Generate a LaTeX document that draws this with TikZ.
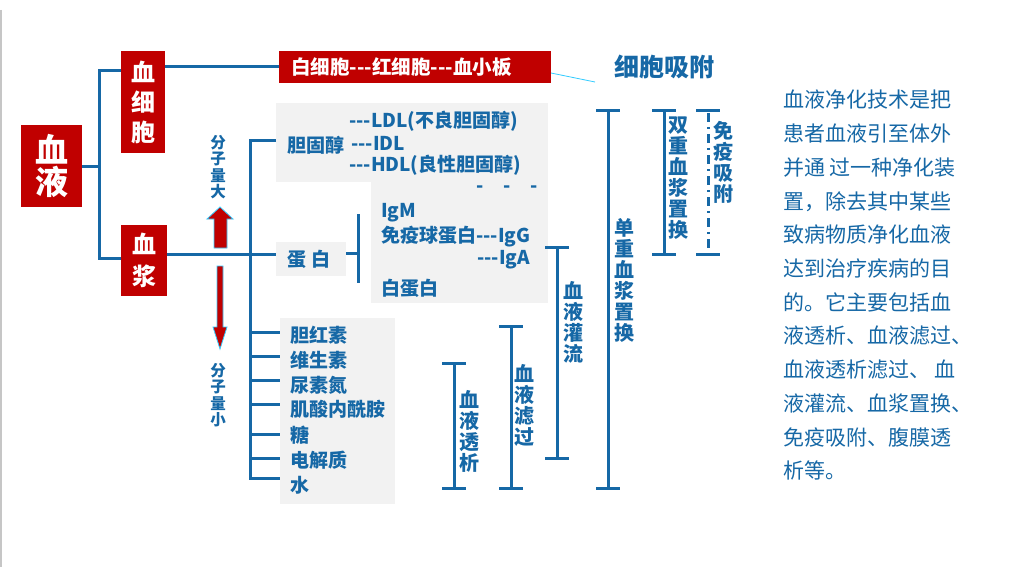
\documentclass[tikz,border=0pt]{standalone}
\usepackage{fontspec}
\newfontfamily\cjk{Noto Sans CJK SC}
\definecolor{myred}{HTML}{C00000}
\definecolor{myblue}{HTML}{1668A6}
\definecolor{mygray}{HTML}{F2F2F2}
\definecolor{mycyan}{HTML}{33CCFF}
\newcommand\myfs[2]{\fontsize{#1}{#2}\selectfont}
\newcommand\hy{-\kern0pt}
\newcommand\dd{\hy\hy-}
\newcommand\ibeam[4]{%
  \coordinate (#1t) at (#2,#3);
  \coordinate (#1b) at (#2,#4);
  \draw[brk] (#1t) -- (#1b);
  \draw[brk] ([xshift=-12pt]#1t) -- ([xshift=12pt]#1t);
  \draw[brk] ([xshift=-12pt]#1b) -- ([xshift=12pt]#1b);}
\tikzset{
  redbox/.style={fill=myred, text=white, inner sep=0pt, align=center},
  graybox/.style={fill=mygray, draw=none, inner sep=0pt, anchor=north west},
  lbl/.style={text=myblue, font=\cjk\bfseries\myfs{19}{22}, inner sep=0pt, anchor=west},
  vlbl/.style={text=myblue, font=\cjk\bfseries\myfs{20}{21}, align=center, inner sep=0pt},
  slbl/.style={text=myblue, font=\cjk\bfseries\myfs{15.5}{16.5}, align=center, inner sep=0pt},
  tree/.style={draw=myblue, line width=3pt},
  brk/.style={draw=myblue, line width=3pt},
  para/.style={text=myblue, font=\cjk\myfs{21}{34}, inner sep=0pt, anchor=base west},
  arr/.style={fill=myred, draw=mycyan, line width=0.8pt, line join=miter},
}
\begin{document}
\begin{tikzpicture}[x=1pt,y=-1pt]
\useasboundingbox (0,0) rectangle (1009,567);
\fill[white] (0,0) rectangle (1009,567);
\draw[gray!45, line width=1.5pt] (1,10) -- (1,567);

% gray boxes
\node[graybox, minimum width=272pt, minimum height=79pt] (chol) at (276,103) {};
\node[graybox, minimum width=177pt, minimum height=121pt] (prot) at (371,182) {};
\node[graybox, minimum width=70pt, minimum height=34pt] (danbai) at (276,242) {};
\node[graybox, minimum width=115pt, minimum height=186pt] (smallbox) at (280,318) {};

% red boxes
\node[redbox, minimum width=61pt, minimum height=82pt, font=\cjk\bfseries\myfs{33}{32}] (xueye) at (51.5,166) {血\\液};
\node[redbox, minimum width=44pt, minimum height=102pt, font=\cjk\bfseries\myfs{24}{30}] (xibao) at (143,102) {血\\细\\胞};
\node[redbox, minimum width=46pt, minimum height=71pt, font=\cjk\bfseries\myfs{24}{32}] (xuejiang) at (144,260.5) {血\\浆};
\node[redbox, minimum width=272pt, minimum height=32pt, anchor=west] (cells) at (279,67) {};
\node[anchor=west, inner sep=0pt, text=white, font=\cjk\bfseries\myfs{19.5}{19.5}] (cellstxt) at (291,67) {白细胞\dd 红细胞\dd 血小板};

% blood tree
\coordinate (jA) at (99,166);
\coordinate (jAt) at (99,71);
\coordinate (jAb) at (99,258);
\draw[tree] (xueye.east |- jA) -- (jA);
\draw[tree] (xibao.west |- jAt) -- (jAt) -- (jAb) -- (xuejiang.west |- jAb);
\draw[tree] (xibao.east |- cells.west) -- (cells.west);

% cyan line and cell adsorption
\coordinate (cyA) at (551,73);
\coordinate (cyB) at (595,82);
\draw[mycyan, line width=0.8pt] (cyA) -- (cyB);
\node[text=myblue, font=\cjk\bfseries\myfs{25}{25}, anchor=west, inner sep=0pt] (xbxf) at (614,67) {细胞吸附};

% plasma tree
\coordinate (tr1) at (250,141);
\coordinate (tr2) at (250,478);
\coordinate (pl) at (0,254);
\draw[tree] (chol.west |- tr1) -- (tr1) -- (tr2) -- (smallbox.west |- tr2);
\draw[tree] (xuejiang.east |- pl) -- (danbai.west |- pl);
\foreach \yy in {332,356,380,404,434,458}
  \draw[tree] (tr1 |- 0,\yy) -- (smallbox.west |- 0,\yy);

% cholesterol
\node[lbl] (dgc) at (287,145) {胆固醇};
\node[lbl] (ldl) at (349,121) {\dd LDL(不良胆固醇)};
\node[lbl] (idl) at (351,143) {\dd IDL};
\node[lbl] (hdl) at (349,165) {\dd HDL(良性胆固醇)};
\node[lbl, anchor=center] (dashes) at (507,189) {-\hspace{20pt}-\hspace{20pt}-};

% protein
\node[lbl, anchor=center] (dbtxt) at (309,259) {蛋 白};
\coordinate (pb) at (358,253);
\coordinate (pbt) at (358,214);
\coordinate (pbb) at (358,283);
\draw[tree] (danbai.east |- pb) -- (pb);
\draw[tree] (pbt) -- (pbb);
\node[lbl] (igm) at (381,213) {IgM};
\node[lbl] (igg) at (381,237) {免疫球蛋白\dd IgG};
\node[lbl] (iga) at (477,260) {\dd IgA};
\node[lbl] (bdb) at (381,288) {白蛋白};

% small molecules
\foreach \t/\yy [count=\i] in {胆红素/335,维生素/360,尿素氮/385,肌酸内酰胺/409,糖/435,电解质/460,水/485}
  \node[lbl] (sm\i) at (290,\yy) {\t};

% arrows
\filldraw[arr] (214,248) -- (214,219) -- (207,219) -- (220,207) -- (233,219) -- (227,219) -- (227,248) -- cycle;
\filldraw[arr] (217,266) -- (217,327) -- (213,327) -- (220,349) -- (227,327) -- (223,327) -- (223,266) -- cycle;
\node[slbl] (fzld) at (218,167) {分\\子\\量\\大};
\node[slbl] (fzlx) at (218,395) {分\\子\\量\\小};

% brackets
\ibeam{ta}{454}{363}{488}
\ibeam{lg}{511}{326}{488}
\ibeam{gl}{557}{247}{458}
\ibeam{dz}{608}{111}{488}
\ibeam{sz}{664}{111}{254}
\coordinate (myt) at (708,111);
\coordinate (myb) at (708,254);
\draw[brk, dash pattern=on 9pt off 5pt on 2pt off 5pt] ([yshift=-2pt]myt) -- (myb);
\draw[brk] ([xshift=-12pt]myt) -- ([xshift=12pt]myt);
\draw[brk] ([xshift=-12pt]myb) -- ([xshift=12pt]myb);

\node[vlbl] (xytx) at (469,431) {血\\液\\透\\析};
\node[vlbl] (xylg) at (524,405) {血\\液\\滤\\过};
\node[vlbl] (xygl) at (573,322) {血\\液\\灌\\流};
\node[vlbl] (dczh) at (624,280) {单\\重\\血\\浆\\置\\换};
\node[vlbl] (sczh) at (678,178) {双\\重\\血\\浆\\置\\换};
\node[vlbl] (myxf) at (723,162) {免\\疫\\吸\\附};

% paragraph
\foreach \t [count=\i] in {血液净化技术是把,患者血液引至体外,并通 过一种净化装,置，除去其中某些,致病物质净化血液,达到治疗疾病的目,的。它主要包括血,液透析、血液滤过、,血液透析滤过、 血,液灌流、血浆置换、,免疫吸附、腹膜透,析等。}
  \node[para] (p\i) at (783,{108+33.7*(\i-1)}) {\t};
\end{tikzpicture}
\end{document}
